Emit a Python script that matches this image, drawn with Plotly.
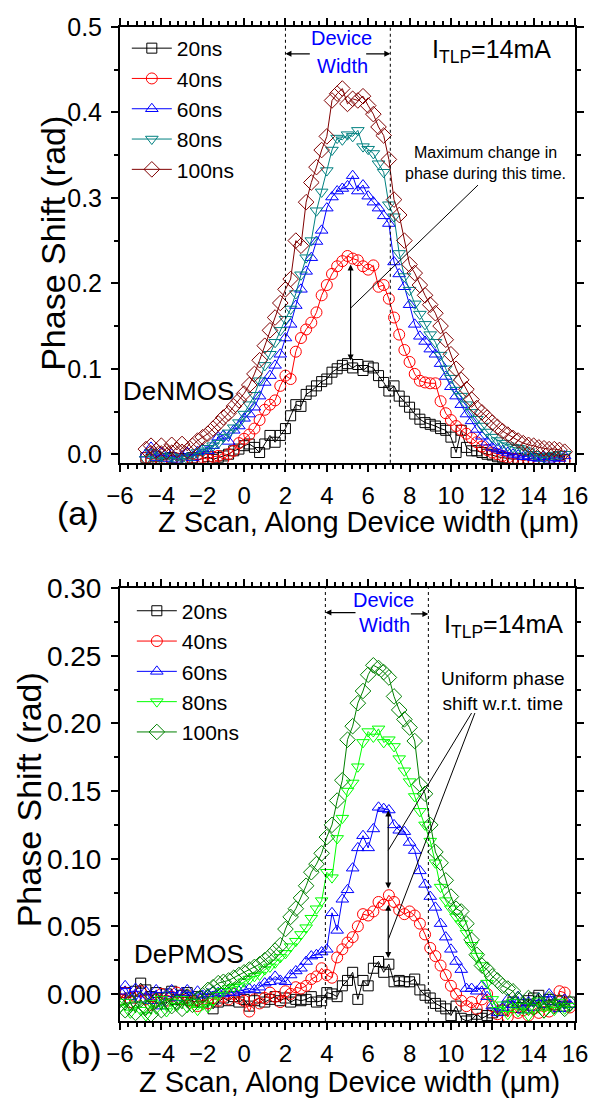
import numpy as np
import plotly.graph_objects as go

FONT = "Liberation Sans, Arial, sans-serif"

# ---------------- data: panel (a) DeNMOS ----------------
x_a = np.round(np.arange(-4.75, 15.51, 0.25), 2)
a_20ns = [-0.004, -0.006, -0.003,
          -0.007, -0.005, -0.004, -0.008,
          -0.005, -0.006, -0.004, -0.007,
          -0.005, -0.003, -0.006, -0.004,
          -0.002, 0.000, 0.004, 0.006,
          0.010, 0.012, 0.008, 0.002,
          0.012, 0.022, 0.014, 0.022,
          0.030, 0.045, 0.058, 0.056,
          0.070, 0.074, 0.080, 0.085,
          0.088, 0.096, 0.100, 0.104,
          0.106, 0.101, 0.105, 0.098,
          0.103, 0.101, 0.092, 0.084,
          0.074, 0.080, 0.068, 0.062,
          0.055, 0.047, 0.041, 0.037,
          0.035, 0.033, 0.030, 0.028,
          0.020, 0.002, 0.028, 0.008,
          0.004, 0.004, 0.002, 0.000,
          -0.001, -0.003, -0.004, -0.005,
          -0.006, -0.005, -0.007, -0.006,
          -0.005, -0.007, -0.006, -0.005,
          -0.006, -0.007, -0.006]
a_40ns = [-0.004, -0.006, -0.005,
          -0.008, -0.006, -0.007, -0.005,
          -0.008, -0.006, -0.005, -0.007,
          -0.004, -0.006, -0.003, -0.002,
          -0.006, 0.000, 0.004, 0.013,
          0.018, 0.023, 0.030, 0.040,
          0.052, 0.058, 0.063, 0.080,
          0.092, 0.088, 0.120, 0.136,
          0.146, 0.154, 0.166, 0.186,
          0.198, 0.211, 0.220, 0.226,
          0.232, 0.229, 0.227, 0.220,
          0.216, 0.221, 0.196, 0.198,
          0.182, 0.160, 0.140, 0.122,
          0.108, 0.094, 0.086, 0.084,
          0.083, 0.083, 0.062, 0.048,
          0.040, 0.033, 0.028, 0.024,
          0.019, 0.014, 0.009, 0.005,
          0.002, 0.000, -0.002, -0.004,
          -0.005, -0.006, -0.007, -0.006,
          -0.008, -0.007, -0.008, -0.007,
          -0.008, -0.007, -0.008]
a_60ns = [0.000, 0.008, -0.004,
          0.002, -0.005, 0.000, -0.006,
          -0.002, 0.002, -0.004, 0.003,
          0.006, 0.004, 0.010, 0.020,
          0.022, 0.015, 0.028, 0.033,
          0.042, 0.047, 0.055, 0.068,
          0.084, 0.092, 0.104, 0.117,
          0.136, 0.152, 0.174, 0.193,
          0.214, 0.230, 0.249, 0.262,
          0.288, 0.301, 0.308, 0.311,
          0.314, 0.326, 0.308, 0.315,
          0.302, 0.295, 0.288, 0.279,
          0.270, 0.225, 0.211, 0.196,
          0.175, 0.152, 0.138, 0.132,
          0.123, 0.117, 0.106, 0.091,
          0.079, 0.068, 0.058, 0.047,
          0.039, 0.029, 0.021, 0.014,
          0.008, 0.006, 0.004, 0.002,
          0.000, -0.001, -0.003, -0.002,
          -0.004, -0.005, -0.003, -0.006,
          -0.004, -0.005, -0.002]
a_80ns = [-0.006, 0.002, -0.008,
          -0.002, -0.007, -0.003, -0.008,
          -0.004, -0.006, -0.002, 0.002,
          0.004, 0.007, 0.010, 0.013,
          0.020, 0.025, 0.031, 0.037,
          0.047, 0.058, 0.069, 0.086,
          0.104, 0.117, 0.131, 0.145,
          0.158, 0.170, 0.188, 0.210,
          0.230, 0.250, 0.285, 0.307,
          0.332, 0.356, 0.370, 0.368,
          0.374, 0.372, 0.379, 0.360,
          0.357, 0.352, 0.340, 0.330,
          0.292, 0.278, 0.235, 0.208,
          0.192, 0.176, 0.164, 0.152,
          0.140, 0.131, 0.116, 0.100,
          0.089, 0.075, 0.068, 0.058,
          0.049, 0.041, 0.033, 0.026,
          0.020, 0.016, 0.013, 0.010,
          0.008, 0.007, 0.005, 0.003,
          0.000, -0.003, -0.004, -0.002,
          -0.001, 0.000, 0.000]
a_100ns = [0.006, 0.010, 0.004,
           0.010, 0.003, 0.011, 0.005,
           0.012, 0.004, 0.010, 0.016,
           0.020, 0.024, 0.030, 0.036,
           0.043, 0.048, 0.056, 0.063,
           0.071, 0.081, 0.094, 0.110,
           0.127, 0.145, 0.160, 0.177,
           0.193, 0.205, 0.250, 0.244,
           0.295, 0.318, 0.336, 0.356,
           0.372, 0.414, 0.422, 0.428,
           0.410, 0.416, 0.414, 0.419,
           0.408, 0.398, 0.383, 0.373,
           0.345, 0.298, 0.280, 0.250,
           0.222, 0.212, 0.198, 0.186,
           0.175, 0.165, 0.150, 0.134,
           0.117, 0.100, 0.087, 0.076,
           0.064, 0.054, 0.049, 0.043,
           0.037, 0.032, 0.027, 0.023,
           0.019, 0.016, 0.013, 0.011,
           0.010, 0.008, 0.007, 0.006,
           0.006, 0.005, 0.003]

# ---------------- data: panel (b) DePMOS ----------------
x_b = np.round(np.arange(-6.0, 15.76, 0.25), 2)
b_20ns = [-0.004, 0.001, -0.003, 0.002,
          0.008, 0.003, -0.002, 0.001,
          -0.003, 0.000, 0.002, -0.004,
          -0.001, 0.001, -0.005, -0.002,
          -0.006, -0.004, -0.011, -0.006,
          -0.003, -0.005, -0.002, -0.006,
          -0.004, -0.009, -0.005, -0.003,
          -0.006, -0.004, -0.002, -0.005,
          -0.003, -0.006, -0.004, -0.005,
          -0.004, -0.002, -0.006, -0.005,
          0.001, 0.000, -0.002, 0.006,
          0.010, 0.016, -0.004, 0.010,
          0.006, 0.019, 0.024, 0.016,
          0.022, 0.009, 0.010, 0.009,
          0.009, 0.011, 0.003, -0.001,
          -0.003, -0.007, -0.009, -0.011,
          -0.016, -0.009, -0.018, -0.020,
          -0.019, -0.015, -0.018, -0.016,
          -0.014, -0.017, -0.012, -0.009,
          -0.006, -0.010, -0.008, -0.005,
          -0.003, -0.001, -0.006, -0.004,
          -0.008, -0.005, -0.009, -0.006]
b_40ns = [-0.004, 0.001, -0.006, -0.002,
          0.002, -0.004, -0.008, -0.003,
          0.000, -0.005, -0.002, 0.001,
          -0.004, -0.001, -0.006, -0.009,
          -0.004, -0.007, -0.003, -0.005,
          -0.002, -0.004, 0.000, -0.003,
          -0.005, -0.013, -0.004, -0.007,
          -0.003, 0.001, -0.002, -0.006,
          0.002, 0.000, 0.005, 0.004,
          0.006, 0.011, 0.013, 0.019,
          0.014, 0.012, 0.027, 0.033,
          0.038, 0.042, 0.050, 0.059,
          0.058, 0.061, 0.068, 0.066,
          0.073, 0.068, 0.062, 0.059,
          0.061, 0.058, 0.052, 0.044,
          0.034, 0.028, 0.021, 0.014,
          0.006, 0.000, -0.005, -0.009,
          -0.006, -0.011, -0.004, 0.000,
          -0.009, -0.015, -0.012, -0.017,
          -0.010, -0.014, -0.012, -0.016,
          -0.011, -0.014, -0.009, -0.013,
          -0.008, 0.002, 0.001, -0.010]
b_60ns = [0.002, 0.006, -0.002, 0.004,
          -0.004, 0.002, -0.005, 0.003,
          -0.009, 0.000, 0.003, -0.003,
          0.001, 0.003, -0.002, 0.002,
          -0.001, 0.000, 0.002, 0.001,
          0.000, 0.001, 0.001, 0.002,
          0.003, 0.004, 0.003, 0.005,
          0.008, 0.009, 0.013, 0.010,
          0.009, 0.014, 0.017, 0.019,
          0.024, 0.028, 0.029, 0.031,
          0.033, 0.060, 0.047, 0.070,
          0.077, 0.093, 0.108, 0.117,
          0.108, 0.122, 0.138, 0.137,
          0.136, 0.125, 0.121, 0.120,
          0.112, 0.106, 0.091, 0.081,
          0.072, 0.064, 0.052, 0.042,
          0.033, 0.024, 0.018, 0.004,
          0.004, 0.002, 0.006, -0.002,
          -0.009, -0.014, -0.010, -0.004,
          -0.008, -0.002, -0.012, -0.006,
          -0.010, -0.003, -0.008, 0.000,
          -0.006, -0.011, -0.004, -0.008]
b_80ns = [-0.010, -0.006, -0.014, -0.008,
          -0.012, -0.016, -0.007, -0.011,
          -0.004, -0.013, -0.006, -0.009,
          -0.004, -0.010, -0.006, -0.012,
          -0.008, -0.010, -0.005, -0.001,
          0.002, 0.004, 0.005, 0.006,
          0.009, 0.011, 0.013, 0.014,
          0.018, 0.020, 0.023, 0.027,
          0.030, 0.035, 0.039, 0.044,
          0.049, 0.056, 0.063, 0.069,
          0.090, 0.086, 0.115, 0.130,
          0.150, 0.156, 0.168, 0.186,
          0.194, 0.190, 0.196, 0.186,
          0.188, 0.183, 0.174, 0.165,
          0.157, 0.146, 0.135, 0.125,
          0.113, 0.097, 0.079, 0.069,
          0.063, 0.057, 0.052, 0.045,
          0.036, 0.028, 0.021, 0.008,
          -0.004, -0.012, -0.008, -0.015,
          -0.006, -0.013, -0.009, -0.016,
          -0.010, -0.005, -0.014, -0.008,
          -0.012, -0.006, -0.011, -0.009]
b_100ns = [-0.008, -0.012, -0.006, -0.014,
           -0.004, -0.010, -0.015, -0.005,
           -0.012, -0.003, -0.009, -0.006,
           -0.011, -0.002, -0.008, -0.004,
           -0.001, 0.003, 0.005, 0.008,
           0.009, 0.010, 0.012, 0.014,
           0.016, 0.018, 0.020, 0.022,
           0.025, 0.028, 0.032, 0.036,
           0.048, 0.057, 0.063, 0.071,
           0.080, 0.090, 0.096, 0.104,
           0.116, 0.125, 0.143, 0.158,
           0.188, 0.198, 0.215, 0.224,
           0.236, 0.243, 0.241, 0.238,
           0.234, 0.220, 0.210, 0.203,
           0.197, 0.187, 0.155, 0.148,
           0.125, 0.105, 0.097, 0.084,
           0.072, 0.063, 0.061, 0.052,
           0.040, 0.029, 0.021, 0.018,
           0.013, 0.010, 0.006, 0.004,
           0.002, -0.004, -0.008, -0.003,
           -0.010, -0.005, -0.012, -0.004,
           -0.009, -0.006, -0.011, -0.007]

labels = ["20ns", "40ns", "60ns", "80ns", "100ns"]
symbols = ["square-open", "circle-open", "triangle-up-open", "triangle-down-open", "diamond-open"]
msizes = [10, 11, 11, 11, 12]
colors_a = ["#000000", "#FF0000", "#0000FF", "#008080", "#800000"]
colors_b = ["#000000", "#FF0000", "#0000FF", "#00FF00", "#008000"]
series_a = [a_20ns, a_40ns, a_60ns, a_80ns, a_100ns]
series_b = [b_20ns, b_40ns, b_60ns, b_80ns, b_100ns]

fig = go.Figure()
for lab, sym, ms, col, ys in zip(labels, symbols, msizes, colors_a, series_a):
    fig.add_trace(go.Scatter(x=x_a, y=ys, mode="lines+markers", name=lab,
                             line=dict(color=col, width=1),
                             marker=dict(symbol=sym, size=ms, color=col, line=dict(color=col, width=1)),
                             xaxis="x", yaxis="y", legend="legend"))
for lab, sym, ms, col, ys in zip(labels, symbols, msizes, colors_b, series_b):
    fig.add_trace(go.Scatter(x=x_b, y=ys, mode="lines+markers", name=lab,
                             line=dict(color=col, width=1),
                             marker=dict(symbol=sym, size=ms, color=col, line=dict(color=col, width=1)),
                             xaxis="x2", yaxis="y2", legend="legend2"))

axis_common = dict(showline=True, linewidth=2, linecolor="black", mirror="allticks",
                   ticks="outside", ticklen=7, tickwidth=1.5, tickcolor="black",
                   showgrid=False, zeroline=False)
xtickfont = dict(family=FONT, size=24, color="black")

fig.update_layout(
    width=600, height=1099,
    margin=dict(l=120, r=16, t=22, b=78),
    paper_bgcolor="white", plot_bgcolor="white",
    font=dict(family=FONT, color="black"),
    xaxis=dict(domain=[0, 1], anchor="y", range=[-6, 16], dtick=2, tick0=0,
               minor=dict(dtick=0.4, ticklen=4, ticks="outside", tickcolor="black"),
               ticklabelstandoff=3, tickfont=xtickfont, **axis_common),
    yaxis=dict(domain=[0.5616, 1.0], anchor="x", range=[-0.01, 0.5], dtick=0.1, tick0=0,
               tickformat=".1f", tickfont=dict(family=FONT, size=25, color="black"),
               ticklabelstandoff=4,
               minor=dict(dtick=0.05, ticklen=4, ticks="outside", tickcolor="black"),
               **axis_common),
    xaxis2=dict(domain=[0, 1], anchor="y2", range=[-6, 16], dtick=2, tick0=0,
                minor=dict(dtick=0.4, ticklen=4, ticks="outside", tickcolor="black"),
                ticklabelstandoff=3, tickfont=xtickfont, **axis_common),
    yaxis2=dict(domain=[0.0, 0.4354], anchor="x2", range=[-0.02, 0.30], dtick=0.05, tick0=0,
                tickformat=".2f", tickfont=dict(family=FONT, size=28, color="black"),
                ticklabelstandoff=4,
                minor=dict(dtick=0.025, ticklen=4, ticks="outside", tickcolor="black"),
                **axis_common),
    legend=dict(x=0.015, y=0.999, xanchor="left", yanchor="top", bgcolor="rgba(0,0,0,0)",
                font=dict(family=FONT, size=21), tracegroupgap=0, itemwidth=40),
    legend2=dict(x=0.026, y=0.433, xanchor="left", yanchor="top", bgcolor="rgba(0,0,0,0)",
                 font=dict(family=FONT, size=21), tracegroupgap=0, itemwidth=40),
    showlegend=True,
)

shapes = []
# device-width dotted lines
for xv in (2.0, 7.07):
    shapes.append(dict(type="line", xref="x", yref="y domain", x0=xv, x1=xv, y0=0, y1=1,
                       line=dict(color="black", width=1, dash="dot")))
for xv in (3.93, 8.91):
    shapes.append(dict(type="line", xref="x2", yref="y2 domain", x0=xv, x1=xv, y0=0, y1=1,
                       line=dict(color="black", width=1, dash="dot")))
# pointer lines
shapes.append(dict(type="line", xref="x", yref="y", x0=11.31, y0=0.315, x1=5.15, y1=0.171,
                   line=dict(color="black", width=1)))
shapes.append(dict(type="line", xref="x2", yref="y2", x0=11.0, y0=0.2077, x1=6.97, y1=0.1062,
                   line=dict(color="black", width=1)))
shapes.append(dict(type="line", xref="x2", yref="y2", x0=11.16, y0=0.2077, x1=6.97, y1=0.0402,
                   line=dict(color="black", width=1)))

ann = []
def txt(text, x, y, xref, yref, size, color="black", **kw):
    ann.append(dict(text=text, x=x, y=y, xref=xref, yref=yref, showarrow=False,
                    xanchor="center", yanchor="middle",
                    font=dict(family=FONT, size=size, color=color), **kw))

def arrow(x, y, ax, ay, xref, yref, both=False):
    ann.append(dict(text="", x=x, y=y, ax=ax, ay=ay, xref=xref, yref=yref,
                    axref=xref, ayref=yref, showarrow=True, arrowhead=2, arrowsize=1,
                    arrowwidth=1.2, arrowcolor="black",
                    arrowside="end+start" if both else "end"))

# panel (a)
txt("Device", 4.72, 0.487, "x", "y", 20, "#0000FF")
txt("Width", 4.75, 0.454, "x", "y", 20, "#0000FF")
arrow(2.0, 0.4686, 3.25, 0.4686, "x", "y")
arrow(7.07, 0.4686, 5.83, 0.4686, "x", "y")
txt("I<sub>TLP</sub>=14mA", 11.95, 0.472, "x", "y", 25)
txt("Maximum change in<br>phase during this time.", 11.65, 0.341, "x", "y", 16)
arrow(5.15, 0.222, 5.15, 0.108, "x", "y", both=True)
txt("DeNMOS", -3.15, 0.074, "x", "y", 26)
# panel (b)
txt("Device", 6.73, 0.291, "x2", "y2", 20, "#0000FF")
txt("Width", 6.81, 0.2726, "x2", "y2", 20, "#0000FF")
arrow(3.93, 0.282, 5.46, 0.282, "x2", "y2")
arrow(8.91, 0.281, 7.99, 0.281, "x2", "y2")
txt("I<sub>TLP</sub>=14mA", 12.55, 0.272, "x2", "y2", 25)
txt("Uniform phase<br>shift w.r.t. time", 12.5, 0.224, "x2", "y2", 19)
arrow(6.97, 0.1356, 6.97, 0.0769, "x2", "y2", both=True)
arrow(6.97, 0.0659, 6.97, 0.0255, "x2", "y2", both=True)
txt("DePMOS", -2.68, 0.0292, "x2", "y2", 26)

# panel labels and axis titles (paper coords; plot area is 464 x 999 px)
txt("(a)", -0.092, 0.5115, "paper", "paper", 34)
txt("(b)", -0.086, -0.0307, "paper", "paper", 34)
txt("Z Scan, Along Device width (\u03bcm)", 0.546, 0.5025, "paper", "paper", 29)
txt("Z Scan, Along Device width (\u03bcm)", 0.504, -0.061, "paper", "paper", 29)
txt("Phase Shift (rad)", -0.147, 0.782, "paper", "paper", 34, textangle=-90)
txt("Phase Shift (rad)", -0.2, 0.222, "paper", "paper", 34, textangle=-90)

fig.update_layout(shapes=shapes, annotations=ann)
fig.write_html("out.html", config={"displayModeBar": False},
               post_script="document.body.style.margin='0';document.body.style.overflow='hidden';")
